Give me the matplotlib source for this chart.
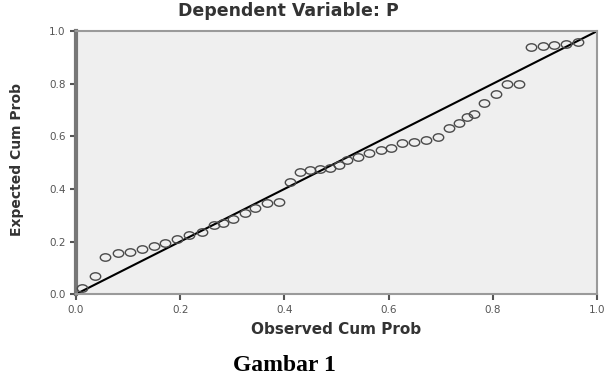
import matplotlib.pyplot as plt
from matplotlib.path import Path
from matplotlib.transforms import Affine2D

# observed vs expected cumulative probability
observed = [0.011, 0.037, 0.056, 0.081, 0.104, 0.126, 0.149, 0.171, 0.194, 0.216,
            0.242, 0.264, 0.283, 0.302, 0.325, 0.344, 0.367, 0.389, 0.410, 0.430,
            0.449, 0.468, 0.487, 0.504, 0.520, 0.541, 0.562, 0.585, 0.604, 0.626,
            0.648, 0.671, 0.694, 0.716, 0.735, 0.751, 0.764, 0.783, 0.806, 0.828,
            0.850, 0.873, 0.896, 0.917, 0.940, 0.963]
expected = [0.025, 0.068, 0.142, 0.157, 0.161, 0.173, 0.182, 0.193, 0.208, 0.224,
            0.237, 0.262, 0.272, 0.284, 0.310, 0.326, 0.345, 0.351, 0.425, 0.465,
            0.472, 0.476, 0.481, 0.493, 0.510, 0.522, 0.535, 0.548, 0.555, 0.573,
            0.579, 0.586, 0.598, 0.631, 0.650, 0.674, 0.684, 0.726, 0.760, 0.800,
            0.800, 0.940, 0.944, 0.947, 0.951, 0.957]
ticks = [0.0, 0.2, 0.4, 0.6, 0.8, 1.0]
tick_labels = ["0.0", "0.2", "0.4", "0.6", "0.8", "1.0"]

# the original image is stretched sideways, so the circles are wide ellipses
ellipse = Affine2D().scale(1.4, 1.0).transform_path(Path.unit_circle())

fig = plt.figure(figsize=(6.11, 3.85), dpi=100)
ax = fig.add_axes([0.1244, 0.236, 0.8527, 0.683])
ax.set_facecolor("#efefef")

ax.plot([0, 1], [0, 1], color="black", linewidth=1.5, zorder=2)
ax.plot(observed, expected, linestyle="none", marker=ellipse, markersize=7.5,
        markerfacecolor="none", markeredgecolor="#4a4a4a", markeredgewidth=1.0, zorder=3)

ax.set_xlim(0, 1)
ax.set_ylim(0, 1)
ax.set_xticks(ticks)
ax.set_xticklabels(tick_labels)
ax.set_yticks(ticks)
ax.set_yticklabels(tick_labels)
ax.tick_params(labelsize=7.5, colors="#555555", length=4, width=1.5)

for side in ["top", "right", "bottom"]:
    ax.spines[side].set_color("#9a9a9a")
    ax.spines[side].set_linewidth(1.5)
ax.spines["left"].set_color("#777777")
ax.spines["left"].set_linewidth(3)

ax.set_xlabel("Observed Cum Prob", fontsize=11, fontweight="bold", color="#333333", labelpad=5)
fig.text(0.028, 0.585, "Expected Cum Prob", rotation=90, fontsize=10, fontweight="bold",
         color="#333333", ha="center", va="center")
fig.text(0.472, 0.972, "Dependent Variable: P", fontsize=12.5, fontweight="bold",
         color="#333333", ha="center", va="center")
fig.text(0.465, 0.05, "Gambar 1", fontsize=17, fontweight="bold",
         family="Liberation Serif", ha="center", va="center")

plt.savefig("out.png", dpi=100)
